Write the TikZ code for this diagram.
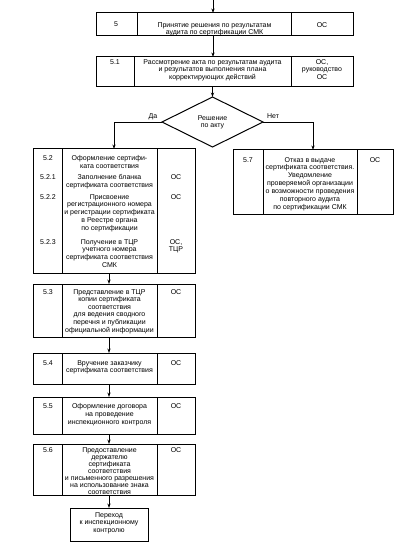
\documentclass[tikz,border=0pt]{standalone}
\usepackage{fontspec}
\setmainfont{Liberation Sans}
\usetikzlibrary{arrows.meta,shapes.geometric}
\begin{document}
\begin{tikzpicture}[x=1pt,y=-1pt,
  box/.style={draw,line width=1pt,inner sep=0pt,outer sep=0pt},
  div/.style={line width=0.9pt},
  txt/.style={inner sep=0pt,align=center,anchor=north,font=\fontsize{7}{7.9}\selectfont},
  tight/.style={font=\fontsize{7}{7.1}\selectfont},
  arr/.style={line width=0.8pt,-{Stealth[length=4.5pt,width=3.2pt]}}]
\useasboundingbox (0,0) rectangle (408,545);
% boxes
\node[box,minimum width=257,minimum height=23] (b5) at (224.5,24.5) {};
\node[box,minimum width=257,minimum height=30] (b51) at (224.5,72) {};
\node[draw,line width=1pt,diamond,inner sep=0pt,outer sep=0pt,minimum width=101,minimum height=50] (dia) at (212.5,122) {};
\node[box,minimum width=162,minimum height=124] (b52) at (114,211) {};
\node[box,minimum width=160,minimum height=64] (b57) at (313,182) {};
\node[box,minimum width=162,minimum height=53] (b53) at (114,310.5) {};
\node[box,minimum width=162,minimum height=31] (b54) at (114,368.5) {};
\node[box,minimum width=162,minimum height=37] (b55) at (114,415.5) {};
\node[box,minimum width=162,minimum height=51] (b56) at (114,469.5) {};
\node[box,minimum width=78,minimum height=33] (fin) at (109,524.5) {};
% dividers
\draw[div] (137,13) -- (137,36) (291,13) -- (291,36);
\draw[div] (134,57) -- (134,87) (291,57) -- (291,87);
\draw[div] (62,149) -- (62,273) (157,149) -- (157,273);
\draw[div] (263,150) -- (263,214) (357,150) -- (357,214);
\draw[div] (62,284) -- (62,337) (157,284) -- (157,337);
\draw[div] (62,353) -- (62,384) (157,353) -- (157,384);
\draw[div] (62,397) -- (62,434) (157,397) -- (157,434);
\draw[div] (62,444) -- (62,495) (157,444) -- (157,495);
% texts
\node[txt] (t5n) at (116,21) {5};
\node[txt] (t5) at (214.5,22) {Принятие решения по результатам\\аудита по сертификации СМК};
\node[txt] (t5r) at (322,22) {ОС};
\node[txt] (t51n) at (115,59) {5.1};
\node[txt] (t51) at (212.5,59) {Рассмотрение акта по результатам аудита\\и результатов выполнения плана\\корректирующих действий};
\node[txt] (t51r) at (322,59) {ОС,\\руководство\\ОС};
\node[txt] (tdia) at (212.5,115) {Решение\\по акту};
\node[inner sep=0pt,anchor=base,font=\fontsize{7}{7.9}\selectfont] (lda) at (153,119) {Да};
\node[inner sep=0pt,anchor=base,font=\fontsize{7}{7.9}\selectfont] (lnet) at (273,119) {Нет};
% 5.2
\node[txt] (t52n) at (48,155) {5.2};
\node[txt] (t52) at (109.5,155) {Оформление сертифи-\\ката соответствия};
\node[txt] (t521n) at (48,174) {5.2.1};
\node[txt] (t521) at (109.5,174) {Заполнение бланка\\сертификата соответствия};
\node[txt] (t521r) at (176,174) {ОС};
\node[txt] (t522n) at (48,194) {5.2.2};
\node[txt] (t522) at (109.5,194) {Присвоение\\регистрационного номера\\и регистрации сертификата\\в Реестре органа\\по сертификации};
\node[txt] (t522r) at (176,194) {ОС};
\node[txt] (t523n) at (48,239) {5.2.3};
\node[txt] (t523) at (109.5,239) {Получение в ТЦР\\учетного номера\\сертификата соответствия\\СМК};
\node[txt,tight] (t523r) at (176,239) {ОС,\\ТЦР};
% 5.7
\node[txt] (t57n) at (248,157) {5.7};
\node[txt] (t57) at (310,157) {Отказ в выдаче\\сертификата соответствия.\\Уведомление\\проверяемой организации\\о возможности проведения\\повторного аудита\\по сертификации СМК};
\node[txt] (t57r) at (375,157) {ОС};
% 5.3
\node[txt] (t53n) at (48,289) {5.3};
\node[txt,font=\fontsize{7}{7.6}\selectfont] (t53) at (109.5,289) {Представление в ТЦР\\копии сертификата\\соответствия\\для ведения сводного\\перечня и публикации\\официальной информации};
\node[txt] (t53r) at (176,289) {ОС};
% 5.4
\node[txt] (t54n) at (48,360) {5.4};
\node[txt] (t54) at (109.5,360) {Вручение заказчику\\сертификата соответствия};
\node[txt] (t54r) at (176,360) {ОС};
% 5.5
\node[txt] (t55n) at (48,403) {5.5};
\node[txt] (t55) at (109.5,403) {Оформление договора\\на проведение\\инспекционного контроля};
\node[txt] (t55r) at (176,403) {ОС};
% 5.6
\node[txt] (t56n) at (48,447) {5.6};
\node[txt,tight] (t56) at (109.5,447) {Предоставление\\держателю\\сертификата\\соответствия\\и письменного разрешения\\на использование знака\\соответствия};
\node[txt] (t56r) at (176,447) {ОС};
% final
\node[txt] (tfin) at (109,512) {Переход\\к инспекционному\\контролю};
% connectors
\coordinate (top) at (213,0);
\draw[arr] (top) -- (top |- b5.north);
\draw[arr] (b5.south -| top) -- (b51.north -| top);
\draw[arr] (b51.south -| dia.north) -- (dia.north);
\draw[arr] (dia.west) -| (b52.north);
\draw[arr] (dia.east) -| (b57.north);
\draw[arr] (b52.south -| fin.north) -- (b53.north -| fin.north);
\draw[arr] (b53.south -| fin.north) -- (b54.north -| fin.north);
\draw[arr] (b54.south -| fin.north) -- (b55.north -| fin.north);
\draw[arr] (b55.south -| fin.north) -- (b56.north -| fin.north);
\draw[arr] (b56.south -| fin.north) -- (fin.north);
\end{tikzpicture}
\end{document}
